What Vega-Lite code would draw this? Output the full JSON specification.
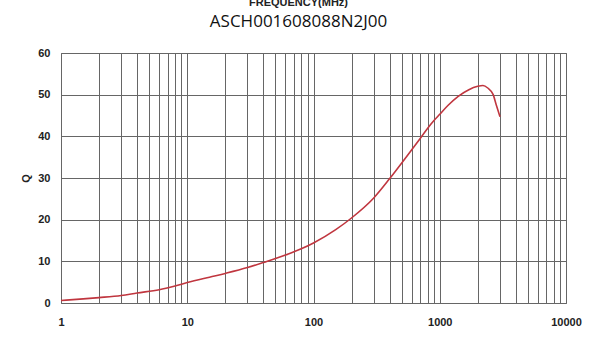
{
  "$schema": "https://vega.github.io/schema/vega-lite/v6.json",
  "autosize": "none",
  "width": 505,
  "height": 250,
  "padding": {"left": 61, "top": 53, "right": 23, "bottom": 36},
  "background": "white",
  "title": {
    "text": "FREQUENCY(MHz)",
    "subtitle": "ASCH001608088N2J00",
    "anchor": "middle",
    "dx": -15,
    "offset": 17,
    "font": "Liberation Sans",
    "fontSize": 11,
    "fontWeight": "bold",
    "color": "#222",
    "subtitleFont": "Open Sans",
    "subtitleFontSize": 17,
    "subtitleColor": "#111",
    "subtitlePadding": 6
  },
  "config": {
    "view": {"stroke": "#666", "strokeWidth": 1},
    "axis": {
      "labelFont": "Liberation Sans",
      "labelFontWeight": "bold",
      "labelFontSize": 11,
      "labelColor": "#222",
      "titleFont": "Liberation Sans",
      "titleFontWeight": "bold",
      "titleFontSize": 11,
      "titleColor": "#222",
      "grid": true,
      "gridColor": "#666",
      "gridOpacity": 1,
      "gridWidth": 1,
      "domain": false,
      "ticks": false,
      "tickSize": 0
    }
  },
  "data": {
    "values": [
      {"f": 1, "q": 0.6},
      {"f": 1.5, "q": 1.0},
      {"f": 2, "q": 1.3},
      {"f": 3, "q": 1.8},
      {"f": 4, "q": 2.4},
      {"f": 6, "q": 3.2},
      {"f": 8, "q": 4.1},
      {"f": 10, "q": 4.9},
      {"f": 15, "q": 6.2},
      {"f": 20, "q": 7.1},
      {"f": 30, "q": 8.5},
      {"f": 40, "q": 9.7},
      {"f": 60, "q": 11.5},
      {"f": 80, "q": 13.0},
      {"f": 100, "q": 14.4},
      {"f": 150, "q": 17.6},
      {"f": 200, "q": 20.4},
      {"f": 300, "q": 25.2},
      {"f": 400, "q": 29.8},
      {"f": 500, "q": 33.6},
      {"f": 600, "q": 36.8},
      {"f": 700, "q": 39.5},
      {"f": 800, "q": 41.9},
      {"f": 900, "q": 43.8},
      {"f": 1000, "q": 45.3},
      {"f": 1160, "q": 47.4},
      {"f": 1400, "q": 49.6},
      {"f": 1700, "q": 51.2},
      {"f": 2000, "q": 52.0},
      {"f": 2200, "q": 52.2},
      {"f": 2400, "q": 51.6},
      {"f": 2650, "q": 50.0},
      {"f": 2800, "q": 47.6},
      {"f": 3000, "q": 44.7}
    ]
  },
  "mark": {"type": "line", "color": "#c0363f", "strokeWidth": 1.6, "interpolate": "monotone"},
  "encoding": {
    "x": {
      "field": "f",
      "type": "quantitative",
      "scale": {"type": "log", "domain": [1, 10000], "nice": false},
      "axis": {
        "title": "FREQUENCY(MHz)",
        "values": [1,2,3,4,5,6,7,8,9,10,20,30,40,50,60,70,80,90,100,200,300,400,500,600,700,800,900,1000,2000,3000,4000,5000,6000,7000,8000,9000,10000],
        "labelExpr": "indexof([1,10,100,1000,10000], datum.value) >= 0 ? format(datum.value, 'd') : ''",
        "labelOverlap": false,
        "labelBound": false,
        "labelFlush": false,
        "labelPadding": 13,
        "titlePadding": 10
      }
    },
    "y": {
      "field": "q",
      "type": "quantitative",
      "scale": {"domain": [0, 60], "nice": false},
      "axis": {
        "title": "Q",
        "values": [0, 10, 20, 30, 40, 50, 60],
        "labelPadding": 11,
        "titlePadding": 6
      }
    }
  }
}
